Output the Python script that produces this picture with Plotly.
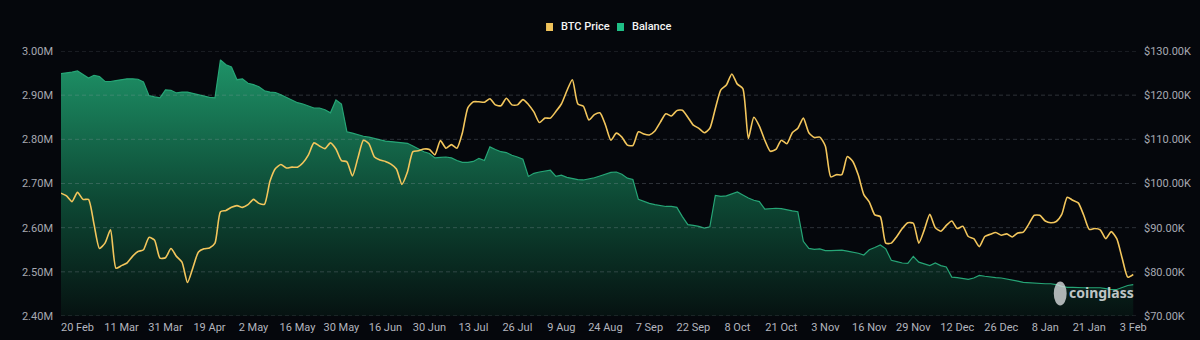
import plotly.graph_objects as go

# ---- data -------------------------------------------------------------
date_labels = ["20 Feb", "11 Mar", "31 Mar", "19 Apr", "2 May", "16 May", "30 May",
               "16 Jun", "30 Jun", "13 Jul", "26 Jul", "9 Aug", "24 Aug", "7 Sep",
               "22 Sep", "8 Oct", "21 Oct", "3 Nov", "16 Nov", "29 Nov", "12 Dec",
               "26 Dec", "8 Jan", "21 Jan", "3 Feb"]

# BTC price in USD thousands
btc_price_k = [
    97.8, 97.2, 95.9, 98.0, 96.4, 96.4, 90.8, 85.3, 86.5, 89.5,
    80.8, 81.4, 82.0, 83.5, 84.6, 85.0, 87.8, 87.2, 83.1, 83.2,
    85.3, 83.5, 82.2, 77.6, 81.0, 84.5, 85.2, 85.4, 86.5, 93.6,
    93.9, 94.6, 95.0, 94.6, 95.2, 96.4, 95.5, 95.3, 100.5, 103.4,
    104.3, 103.5, 103.7, 103.7, 104.7, 106.5, 109.2, 108.5, 107.9, 109.2,
    107.8, 105.2, 104.9, 101.7, 105.8, 109.8, 109.0, 106.0, 105.3, 105.0,
    104.4, 103.3, 99.8, 102.6, 107.2, 107.4, 107.8, 107.7, 106.5, 109.7,
    108.0, 108.8, 108.0, 111.5, 117.2, 118.5, 118.5, 118.4, 119.2, 117.8,
    117.6, 119.3, 117.8, 117.8, 119.0, 117.9, 116.2, 113.8, 114.8, 114.8,
    116.3, 118.0, 121.0, 123.5, 118.0, 117.5, 114.4, 115.6, 116.0, 113.3,
    109.8, 111.4, 110.5, 108.7, 108.6, 111.7, 111.2, 111.0, 111.9, 113.9,
    115.8, 115.3, 116.5, 116.6, 115.0, 113.2, 112.5, 111.5, 112.5, 117.0,
    121.2, 122.3, 124.8, 122.5, 121.5, 110.2, 115.0, 113.0, 109.8, 107.3,
    107.7, 109.8, 109.0, 111.5, 112.5, 114.8, 111.5, 110.4, 110.5, 108.5,
    101.5, 102.0, 102.0, 106.1, 105.0, 101.9, 97.5, 95.8, 92.9, 92.5,
    86.5, 86.5, 88.0, 89.8, 91.1, 91.0, 86.5, 89.5, 93.0, 90.0,
    89.2, 90.5, 91.5, 89.8, 90.3, 88.0, 87.5, 85.7, 88.0, 88.5,
    88.9, 88.3, 88.6, 87.9, 88.8, 89.0, 90.8, 92.8, 92.8, 91.5,
    91.1, 91.4, 93.0, 96.9, 96.2, 95.6, 92.8, 89.6, 89.8, 89.5,
    87.5, 89.1, 87.5, 83.0, 78.8, 79.4,
]

# Exchange balance in millions of BTC
balance_m = [
    2.949, 2.950, 2.952, 2.955, 2.947, 2.939, 2.945, 2.942, 2.931, 2.931,
    2.933, 2.935, 2.937, 2.937, 2.936, 2.930, 2.899, 2.896, 2.894, 2.912,
    2.911, 2.905, 2.907, 2.907, 2.904, 2.901, 2.897, 2.895, 2.894, 2.980,
    2.969, 2.964, 2.935, 2.937, 2.927, 2.924, 2.919, 2.910, 2.907, 2.906,
    2.901, 2.895, 2.889, 2.883, 2.880, 2.876, 2.871, 2.871, 2.867, 2.860,
    2.889, 2.880, 2.817, 2.814, 2.810, 2.807, 2.805, 2.802, 2.798, 2.796,
    2.795, 2.794, 2.793, 2.791, 2.785, 2.779, 2.772, 2.768, 2.758, 2.759,
    2.760, 2.758, 2.752, 2.748, 2.748, 2.750, 2.757, 2.752, 2.783, 2.777,
    2.772, 2.770, 2.764, 2.760, 2.755, 2.716, 2.723, 2.726, 2.728, 2.730,
    2.716, 2.719, 2.714, 2.711, 2.709, 2.708, 2.710, 2.713, 2.717, 2.721,
    2.725, 2.726, 2.721, 2.712, 2.709, 2.664, 2.659, 2.655, 2.652, 2.650,
    2.648, 2.648, 2.646, 2.625, 2.607, 2.605, 2.603, 2.599, 2.602, 2.673,
    2.671, 2.672, 2.676, 2.681, 2.674, 2.667, 2.662, 2.659, 2.642, 2.643,
    2.644, 2.643, 2.640, 2.638, 2.636, 2.569, 2.553, 2.551, 2.552, 2.548,
    2.548, 2.549, 2.549, 2.547, 2.545, 2.542, 2.538, 2.550, 2.555, 2.561,
    2.552, 2.526, 2.523, 2.520, 2.519, 2.535, 2.522, 2.518, 2.514, 2.520,
    2.514, 2.511, 2.488, 2.487, 2.485, 2.483, 2.486, 2.492, 2.490, 2.488,
    2.487, 2.486, 2.484, 2.482, 2.479, 2.476, 2.475, 2.475, 2.474, 2.473,
    2.473, 2.471, 2.467, 2.465, 2.465, 2.464, 2.464, 2.464, 2.464, 2.464,
    2.462, 2.460, 2.460, 2.465, 2.469, 2.471,
]

left_tick_vals = [2.40e6, 2.50e6, 2.60e6, 2.70e6, 2.80e6, 2.90e6, 3.00e6]
left_tick_text = ["2.40M", "2.50M", "2.60M", "2.70M", "2.80M", "2.90M", "3.00M"]
right_tick_vals = [70000, 80000, 90000, 100000, 110000, 120000, 130000]
right_tick_text = ["$70.00K", "$80.00K", "$90.00K", "$100.00K", "$110.00K", "$120.00K", "$130.00K"]

series_names = ["BTC Price", "Balance"]
series_colors = ["#efc25a", "#1fbf86"]

POINTS_PER_LABEL = 8
FIRST_OFFSET = 3  # points before the first labelled date

# ---- build ------------------------------------------------------------
n = len(btc_price_k)
x_idx = [i - FIRST_OFFSET for i in range(n)]
x_min, x_max = -FIRST_OFFSET, n - FIRST_OFFSET - 0.5
btc_usd = [v * 1000 for v in btc_price_k]
balance_btc = [v * 1e6 for v in balance_m]
tick_pos = [i * POINTS_PER_LABEL for i in range(len(date_labels))]

BG = "#05070c"
TICK_FONT = dict(family="Roboto, Arial, sans-serif", size=11, color="#a7a9b2")

fig = go.Figure()

fig.add_trace(go.Scatter(
    x=x_idx, y=balance_btc, name="Balance", mode="lines",
    line=dict(color="rgb(38,165,118)", width=1.2),
    fill="tozeroy",
    fillgradient=dict(
        type="vertical",
        start=2.40e6, stop=2.98e6,
        colorscale=[[0.0, "rgb(6,18,17)"], [0.45, "rgb(13,72,52)"],
                    [1.0, "rgb(30,146,103)"]],
    ),
    showlegend=False, hoverinfo="skip",
))

# dashed horizontal grid drawn over the filled area (below the price line)
grid_x, grid_y = [], []
for v in left_tick_vals:
    grid_x += [x_min, x_max, None]
    grid_y += [v, v, None]
fig.add_trace(go.Scatter(
    x=grid_x, y=grid_y, mode="lines", showlegend=False, hoverinfo="skip",
    line=dict(color="rgba(150,158,172,0.28)", width=1, dash="4px,3px"),
))

fig.add_trace(go.Scatter(
    x=x_idx, y=btc_usd, name="BTC Price", mode="lines", yaxis="y2",
    line=dict(color="#f3c65c", width=1.6, shape="spline", smoothing=0.6),
    showlegend=False,
))

fig.update_layout(
    width=1200, height=340,
    margin=dict(l=61, r=64, t=51, b=24, autoexpand=False),
    paper_bgcolor=BG, plot_bgcolor=BG,
    showlegend=False,
    xaxis=dict(range=[x_min, x_max],
               tickmode="array", tickvals=tick_pos, ticktext=date_labels,
               showgrid=False, zeroline=False, showline=False, ticks="",
               tickfont=dict(family="Roboto, Arial, sans-serif", size=11, color="#b3b5be"),
               ticklabelstandoff=3, fixedrange=True),
    yaxis=dict(range=[2.40e6, 3.00e6], tickmode="array",
               tickvals=left_tick_vals, ticktext=left_tick_text,
               showgrid=False, zeroline=False, showline=False, ticks="",
               tickfont=TICK_FONT, ticklabelstandoff=7),
    yaxis2=dict(range=[70000, 130000], overlaying="y", side="right",
                tickmode="array", tickvals=right_tick_vals, ticktext=right_tick_text,
                showgrid=False, zeroline=False, showline=False, ticks="",
                tickfont=TICK_FONT, ticklabelstandoff=7),
    hovermode="x unified",
)

# legend: square swatch + label, centred above the plot
legend_x = [(0.4512, 0.4577, 0.4633), (0.5172, 0.5237, 0.5293)]
for name, color, (sx0, sx1, tx) in zip(series_names, series_colors, legend_x):
    fig.add_shape(type="rect", xref="paper", yref="paper",
                  x0=sx0, x1=sx1, y0=1.0755, y1=1.1057,
                  fillcolor=color, line=dict(width=0))
    fig.add_annotation(text=name, xref="paper", yref="paper", x=tx, y=1.0906,
                       xanchor="left", yanchor="middle", showarrow=False,
                       font=dict(family="Roboto, Arial, sans-serif", size=11,
                                 color="#f4f4f4", weight=500))

# watermark
fig.add_annotation(text="<b>coinglass</b>", xref="paper", yref="paper",
                   x=1.0, y=0.09, xanchor="right", yanchor="middle", showarrow=False,
                   font=dict(family="Noto Sans, Arial, sans-serif", size=14,
                             color="rgba(225,228,230,0.85)"))
fig.add_shape(type="circle", xref="paper", yref="paper",
              x0=0.9235, x1=0.9355, y0=0.04, y1=0.13,
              fillcolor="rgba(215,218,220,0.8)", line=dict(width=0))

fig.write_html("out.html")
